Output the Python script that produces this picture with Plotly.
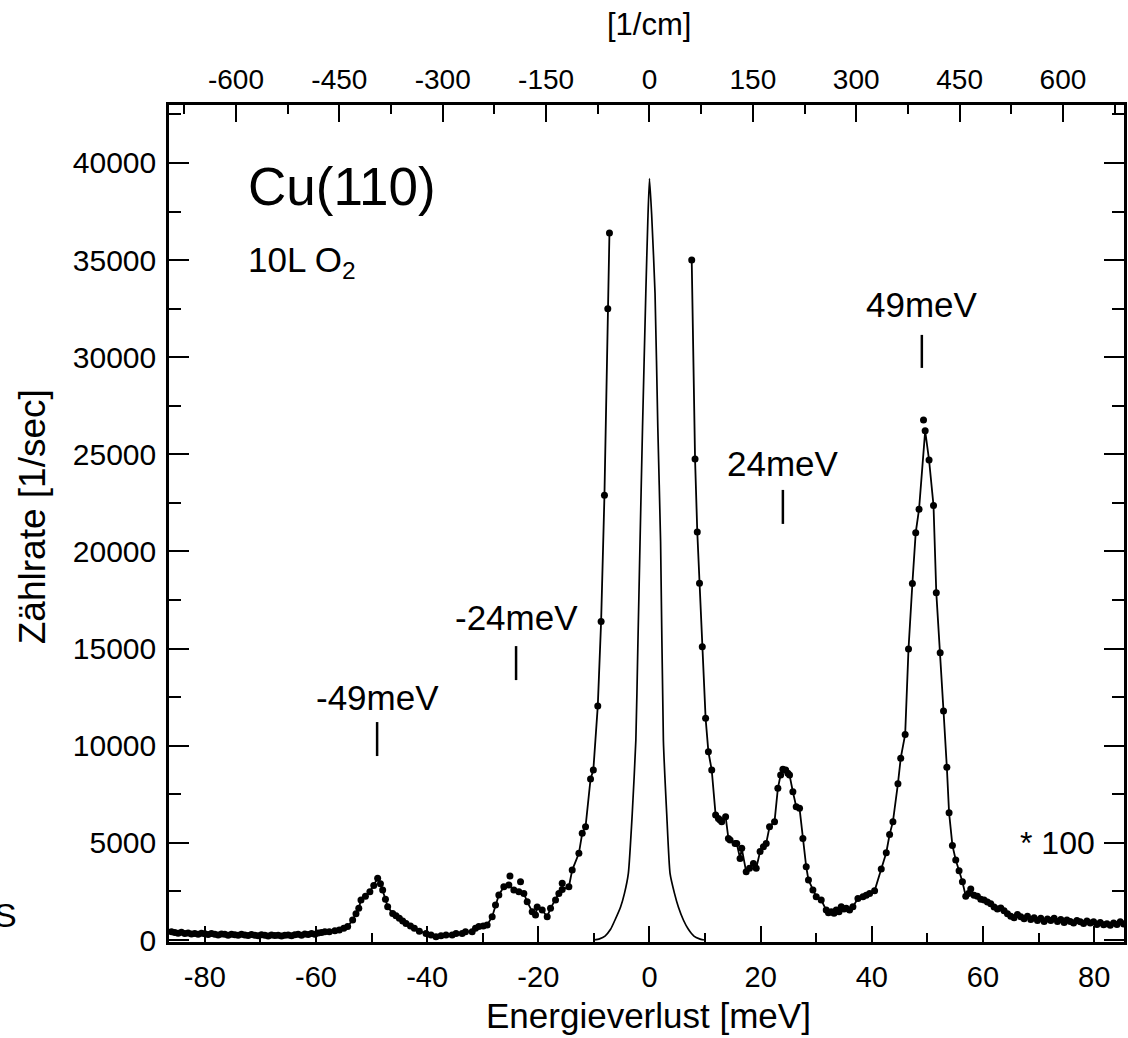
import plotly.graph_objects as go

# HREELS loss spectrum, Cu(110) after 10 L O2 (loss side scaled x100)
CM_PER_MEV = 8.0655

# left branch of the scaled loss spectrum (meV, counts/s)
loss_left_x = [-86.0, -85.4, -84.8, -84.2, -83.6, -83.0, -82.4, -81.8, -81.2, -80.6,
               -80.0, -79.4, -78.8, -78.2, -77.6, -77.0, -76.4, -75.8, -75.2, -74.6,
               -74.0, -73.4, -72.8, -72.2, -71.6, -71.0, -70.4, -69.8, -69.2, -68.6,
               -68.0, -67.4, -66.8, -66.2, -65.6, -65.0, -64.4, -63.8, -63.2, -62.6,
               -62.0, -61.4, -60.8, -60.2, -59.6, -59.0, -58.4,
               -57.6, -56.6, -55.8, -55.0, -54.3, -53.4, -52.8, -52.3, -51.9, -51.1,
               -50.3, -49.6, -48.9, -48.4, -48.0, -47.5, -47.1, -46.2, -45.6, -45.0,
               -44.4, -43.8, -43.0, -42.3, -41.4, -40.2, -39.3, -38.4, -37.5, -36.6,
               -35.5, -34.8, -33.7, -33.1, -31.9, -31.3, -30.7, -29.9, -29.2, -28.3,
               -27.7, -27.1, -26.2, -25.3, -24.4, -23.5, -22.6, -22.0, -21.1, -20.5,
               -20.2, -19.3, -18.4, -17.8, -16.9, -16.3, -15.7, -14.5, -13.9, -12.7,
               -12.1, -11.5, -10.6, -10.1, -9.3, -8.7, -8.1, -7.5, -7.2]
loss_left_y = [420, 380, 350, 400, 330, 360, 310, 340, 300, 350,
               320, 280, 330, 300, 260, 310, 290, 250, 300, 270,
               240, 290, 260, 230, 280, 250, 220, 270, 240, 210,
               260, 230, 250, 200, 240, 260, 220, 270, 300, 250,
               310, 280, 330, 300, 360, 390, 420,
               430, 480, 510, 600, 690, 1030, 1350, 1630, 2060, 2250,
               2490, 2800, 3180, 2900, 2570, 2100, 1710, 1370, 1250, 1120,
               980, 850, 720, 600, 450, 340, 260, 170, 220, 260,
               260, 340, 340, 430, 430, 600, 690, 720, 770, 1200,
               1800, 2320, 2740, 2830, 2570, 2490, 2400, 1970, 1460, 1290,
               1700, 1540, 1200, 1630, 2060, 2400, 2600, 2740, 3600, 4460,
               5490, 5830, 8290, 8750, 12040, 16400, 22900, 32500, 36400]

# right branch of the scaled loss spectrum
loss_right_x = [7.6, 8.2, 8.6, 9.0, 9.5, 10.1, 10.6, 11.2, 11.9, 12.4,
                12.7, 13.0, 13.7, 14.2, 14.5, 15.4, 15.7, 16.3, 16.6, 17.4,
                18.0, 18.7, 19.2, 19.9, 20.5, 21.0, 21.6, 22.5, 23.1, 23.6,
                24.0, 24.5, 24.9, 25.2, 25.8, 26.4, 27.0, 27.6, 28.2, 28.6,
                29.4, 30.0, 30.9, 31.8, 32.2, 32.7, 33.2, 33.6, 34.1, 34.5,
                35.0, 35.4, 36.0, 36.6, 37.5, 38.4, 39.0, 39.6, 40.5, 41.7,
                42.6, 43.2, 43.8, 44.7, 45.2, 46.0, 46.6, 47.3, 47.9, 48.5,
                49.6, 50.3, 51.1, 51.6, 52.3, 52.9, 53.5, 53.9, 54.5, 55.1,
                55.7, 56.3, 56.9, 57.4, 57.8, 58.4, 59.0, 59.6, 60.2, 60.8,
                61.4, 62.0, 62.6, 63.2, 63.8, 64.4, 65.0, 65.6, 66.2, 66.8,
                67.4, 68.0, 68.6, 69.2, 69.8, 70.4, 71.0, 71.6, 72.2, 72.8,
                73.4, 74.0, 74.6, 75.1, 75.7, 76.3, 76.9, 77.5, 78.1, 78.7,
                79.3, 79.9, 80.5, 81.1, 81.7, 82.3, 82.9, 83.5, 84.1, 84.7, 85.3]
loss_right_y = [35000, 24760, 21000, 18360, 15100, 11410, 9690, 8750, 6430, 6250,
                6180, 6090, 6350, 5230, 5150, 4970, 4970, 4200, 4720, 3510,
                3700, 3940, 3690, 4550, 4800, 4970, 5830, 6090, 7810, 8500,
                8790, 8750, 8580, 8490, 7630, 6860, 6780, 5230, 3770, 3090,
                2570, 2230, 2060, 1540, 1400, 1460, 1380, 1540, 1450, 1710,
                1600, 1630, 1550, 1710, 2140, 2230, 2300, 2400, 2530, 3650,
                4490, 5430, 6090, 8050, 9360, 10580, 14980, 18350, 20970, 22180,
                26210, 24710, 22370, 17880, 14790, 11790, 8890, 6550, 4870, 4120,
                3560, 3000, 2250, 2400, 2620, 2300, 2250, 2100, 2060, 1950,
                1870, 1700, 1590, 1650, 1500, 1350, 1220, 1150, 1310, 1200,
                1100, 1220, 1050, 1150, 1000, 1120, 950, 1080, 1000, 1120,
                950, 1050, 900, 1030, 950, 880, 1000, 940, 850, 980,
                880, 940, 800, 900, 780, 840, 760, 880, 800, 940, 820]

# single counts lying off the drawn curve
stray_x = [-25.1, -23.2, -15.7, 49.3]
stray_y = [3290, 3000, 2920, 26770]

# elastic peak, unscaled
elastic_x = [-10.0, -9.0, -8.0, -7.0, -6.2, -5.2, -4.5, -3.8, -3.1, -2.45,
             -2.1, -1.75, -1.25, -0.66, -0.3, 0.0, 0.4, 1.0, 1.5, 2.0,
             2.5, 3.1, 3.7, 4.5, 5.2, 6.1, 7.0, 8.0, 9.0, 9.8]
elastic_y = [0, 60, 200, 550, 1030, 1700, 2400, 3430, 6500, 10300,
             15000, 19800, 26400, 33300, 37000, 39200, 37300, 33300, 26400, 20500,
             10300, 6500, 3430, 2400, 1700, 1030, 550, 200, 60, 0]

peak_pos = [-49, -24, 24, 49]
peak_labels = ["-49meV", "-24meV", "24meV", "49meV"]

x_ticks = [-80, -60, -40, -20, 0, 20, 40, 60, 80]
cm_ticks = [-600, -450, -300, -150, 0, 150, 300, 450, 600]
y_ticks = [0, 5000, 10000, 15000, 20000, 25000, 30000, 35000, 40000]

x_range = [-86.44, 85.37]
y_range = [-103, 42985]

FONT = "Liberation Sans, Arial, Helvetica, sans-serif"
INK = "black"


def plain(v):
    # tick text with an ASCII hyphen as minus sign
    return str(v)


fig = go.Figure()

fig.add_trace(go.Scatter(
    x=elastic_x, y=elastic_y, mode="lines",
    line=dict(color=INK, width=1.7, shape="spline", smoothing=0.5),
    showlegend=False, hoverinfo="skip"))

fig.add_trace(go.Scatter(
    x=loss_left_x + [None] + loss_right_x,
    y=loss_left_y + [None] + loss_right_y,
    mode="lines+markers", connectgaps=False,
    line=dict(color=INK, width=1.8),
    marker=dict(color=INK, size=7, symbol="circle"),
    showlegend=False))

fig.add_trace(go.Scatter(
    x=stray_x, y=stray_y, mode="markers",
    marker=dict(color=INK, size=7), showlegend=False))

# carrier for the wavenumber axis on top
fig.add_trace(go.Scatter(
    x=[v * CM_PER_MEV for v in x_range], y=[None, None],
    xaxis="x2", mode="markers", showlegend=False, hoverinfo="skip"))

# peak markers with their energy labels
label_y = {-49: 12500, -24: 16600, 24: 24550, 49: 32700}
bar_y = {-49: (9470, 11220), -24: (13380, 15130), 24: (21420, 23170), 49: (29450, 31150)}
annotations = []
shapes = []
for pos, txt in zip(peak_pos, peak_labels):
    y0, y1 = bar_y[pos]
    shapes.append(dict(type="line", xref="x", yref="y", x0=pos, x1=pos, y0=y0, y1=y1,
                       line=dict(color=INK, width=2.5)))
    annotations.append(dict(x=pos, y=label_y[pos], xref="x", yref="y", text=txt,
                            showarrow=False, xanchor="center", yanchor="middle",
                            font=dict(family=FONT, size=35, color=INK)))

annotations += [
    dict(x=-72.6, y=38800, xref="x", yref="y", text="Cu(110)", showarrow=False,
         xanchor="left", yanchor="middle", font=dict(family=FONT, size=53, color=INK)),
    dict(x=-72.6, y=34900, xref="x", yref="y", text="10L O<sub>2</sub>", showarrow=False,
         xanchor="left", yanchor="middle", font=dict(family=FONT, size=35, color=INK)),
    dict(x=80.6, y=5000, xref="x", yref="y", text="* 100", showarrow=False,
         xanchor="right", yanchor="middle", font=dict(family=FONT, size=32, color=INK)),
    dict(x=0.502, y=-0.0875, xref="paper", yref="paper", text="Energieverlust [meV]",
         showarrow=False, xanchor="center", yanchor="middle",
         font=dict(family=FONT, size=35, color=INK)),
    dict(x=-0.143, y=0.508, xref="paper", yref="paper", text="Zählrate [1/sec]",
         textangle=-90, showarrow=False, xanchor="center", yanchor="middle",
         font=dict(family=FONT, size=37, color=INK)),
    dict(x=0.503, y=1.096, xref="paper", yref="paper", text="[1/cm]",
         showarrow=False, xanchor="center", yanchor="middle",
         font=dict(family=FONT, size=31, color=INK)),
    dict(x=-0.171, y=0.032, xref="paper", yref="paper", text="S",
         showarrow=False, xanchor="center", yanchor="middle",
         font=dict(family=FONT, size=34, color=INK)),
]

fig.update_layout(
    width=1128, height=1038,
    margin=dict(l=169, r=1, t=105, b=96),
    paper_bgcolor="white", plot_bgcolor="white",
    font=dict(family=FONT, color=INK),
    showlegend=False,
    xaxis=dict(
        range=x_range, tickmode="array", tickvals=x_ticks,
        ticktext=[plain(v) for v in x_ticks],
        ticks="inside", ticklen=16, tickwidth=2, tickcolor=INK,
        minor=dict(ticks="inside", ticklen=9, tickwidth=1.5, tickcolor=INK, dtick=10, tick0=0),
        showline=True, linewidth=2.5, linecolor=INK, mirror=True,
        showgrid=False, zeroline=False, ticklabelstandoff=7,
        tickfont=dict(family=FONT, size=29, color=INK)),
    xaxis2=dict(
        overlaying="x", side="top", anchor="y",
        range=[v * CM_PER_MEV for v in x_range], tickmode="array", tickvals=cm_ticks,
        ticktext=[plain(v) for v in cm_ticks],
        ticks="inside", ticklen=17, tickwidth=2, tickcolor=INK,
        minor=dict(ticks="inside", ticklen=9, tickwidth=1.5, tickcolor=INK, dtick=75, tick0=0),
        showline=False, showgrid=False, zeroline=False, ticklabelstandoff=9,
        tickfont=dict(family=FONT, size=28, color=INK)),
    yaxis=dict(
        range=y_range, tickmode="array", tickvals=y_ticks,
        ticktext=[plain(v) for v in y_ticks],
        ticks="inside", ticklen=20, tickwidth=2, tickcolor=INK,
        minor=dict(ticks="inside", ticklen=12, tickwidth=1.5, tickcolor=INK, dtick=2500, tick0=0),
        showline=True, linewidth=2.5, linecolor=INK, mirror="ticks",
        showgrid=False, zeroline=False, ticklabelstandoff=4,
        tickfont=dict(family=FONT, size=30, color=INK)),
    annotations=annotations,
    shapes=shapes,
)

fig.write_html("out.html")
